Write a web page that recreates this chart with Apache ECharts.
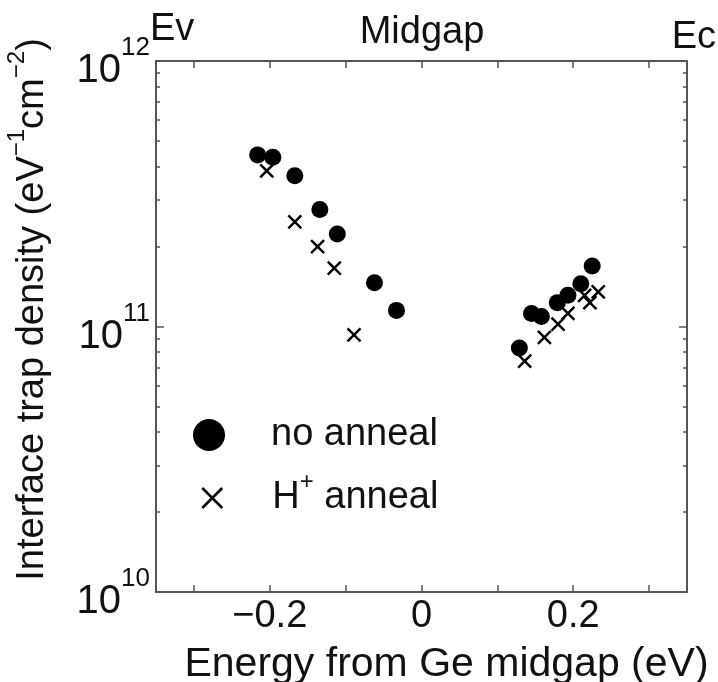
<!DOCTYPE html>
<html>
<head>
<meta charset="utf-8">
<script src="https://cdn.jsdelivr.net/npm/echarts@6/dist/echarts.min.js"></script>
<style>
  html, body { margin: 0; padding: 0; background: #fff; }
  #chart { width: 718px; height: 682px; }
</style>
</head>
<body>
<div id="chart"></div>
<script>
// energy from midgap (eV) / trap density (eV^-1 cm^-2)
const noAnnealEnergy = [-0.216, -0.196, -0.167, -0.134, -0.111, -0.062, -0.033,
  0.129, 0.145, 0.158, 0.179, 0.193, 0.210, 0.225];
const noAnnealDit = [4.43e11, 4.34e11, 3.70e11, 2.76e11, 2.23e11, 1.46e11, 1.15e11,
  8.3e10, 1.12e11, 1.09e11, 1.23e11, 1.31e11, 1.45e11, 1.69e11];

const hAnnealEnergy = [-0.204, -0.167, -0.137, -0.115, -0.089,
  0.136, 0.162, 0.180, 0.193, 0.215, 0.222, 0.233];
const hAnnealDit = [3.86e11, 2.48e11, 2.0e11, 1.66e11, 9.3e10,
  7.4e10, 9.1e10, 1.02e11, 1.12e11, 1.31e11, 1.23e11, 1.35e11];

// ticks
const xTicks = [-0.3, -0.2, -0.1, 0, 0.1, 0.2, 0.3];
const xLabels = [-0.2, 0, 0.2];
const yMajor = [1e10, 1e11, 1e12];
const yMinor = [2e10, 3e10, 4e10, 5e10, 6e10, 7e10, 8e10, 9e10,
  2e11, 3e11, 4e11, 5e11, 6e11, 7e11, 8e11, 9e11];

const FONT = "Arial, 'Liberation Sans', sans-serif";
const axisColor = "#555";
const textColor = "#111";

const zip = (xs, ys) => xs.map((x, i) => [x, ys[i]]);

const chart = echarts.init(document.getElementById("chart"));

const crossPath = "path://M0,0L10,10M10,0L0,10";

// y axes share the same range, only ticks differ
function yAxisBase(pos) {
  return {
    type: "log",
    logBase: 10,
    min: 1e10,
    max: 1e12,
    position: pos,
    splitLine: { show: false },
    axisLine: { show: true, onZero: false, lineStyle: { color: axisColor, width: 2 } },
  };
}

const option = {
  animation: false,
  backgroundColor: "#fff",
  textStyle: { fontFamily: FONT, color: textColor },
  grid: {
    left: 156,
    right: 31,
    top: 61,
    bottom: 90,
    containLabel: false,
    outerBoundsMode: "none",
  },
  xAxis: [
    {
      type: "value",
      min: -0.35,
      max: 0.35,
      position: "bottom",
      splitLine: { show: false },
      axisLine: { show: true, onZero: false, lineStyle: { color: axisColor, width: 2 } },
      axisTick: {
        show: true,
        inside: true,
        length: 7,
        customValues: xTicks,
        lineStyle: { color: axisColor, width: 1.5 },
      },
      axisLabel: {
        customValues: xLabels,
        margin: 6,
        fontSize: 38,
        fontFamily: FONT,
        color: textColor,
        formatter: (v) => (v < 0 ? "\u2212" + Math.abs(v) : String(v)),
      },
      name: "Energy from Ge midgap (eV)",
      nameLocation: "middle",
      nameGap: 52,
      nameTextStyle: {
        fontSize: 41,
        fontFamily: FONT,
        color: textColor,
        verticalAlign: "top",
        padding: [0, 0, 0, 50],
      },
    },
    {
      type: "value",
      min: -0.35,
      max: 0.35,
      position: "top",
      splitLine: { show: false },
      axisLine: { show: true, onZero: false, lineStyle: { color: axisColor, width: 2 } },
      axisTick: {
        show: true,
        inside: true,
        length: 7,
        customValues: xTicks,
        lineStyle: { color: axisColor, width: 1.5 },
      },
      axisLabel: { show: false },
    },
  ],
  yAxis: [
    Object.assign(yAxisBase("left"), {
      axisTick: {
        show: true,
        inside: true,
        length: 8,
        customValues: yMajor,
        lineStyle: { color: axisColor, width: 1.5 },
      },
      axisLabel: {
        customValues: yMajor,
        margin: 6,
        align: "right",
        formatter: (v) => "{b|10}{s|" + Math.round(Math.log10(v)) + "}",
        rich: {
          b: { fontSize: 40, fontFamily: FONT, color: textColor, lineHeight: 60, verticalAlign: "bottom", padding: [0, 0, 0, 0] },
          s: { fontSize: 26, fontFamily: FONT, color: textColor, lineHeight: 20, verticalAlign: "top", padding: [4, 0, 0, 0] },
        },
      },
      name: "Interface trap density (eV{s|\u22121}cm{s|\u22122})",
      nameLocation: "middle",
      nameRotate: 90,
      nameGap: 95,
      nameTextStyle: {
        fontSize: 38,
        fontFamily: FONT,
        color: textColor,
        lineHeight: 56,
        padding: [0, 0, 0, 34],
        rich: {
          s: { fontSize: 24, fontFamily: FONT, color: textColor, lineHeight: 20, verticalAlign: "top" },
        },
      },
    }),
    Object.assign(yAxisBase("left"), {
      axisTick: {
        show: true,
        inside: true,
        length: 4,
        customValues: yMinor,
        lineStyle: { color: axisColor, width: 1.5 },
      },
      axisLabel: { show: false },
    }),
    Object.assign(yAxisBase("right"), {
      axisTick: {
        show: true,
        inside: true,
        length: 8,
        customValues: yMajor,
        lineStyle: { color: axisColor, width: 1.5 },
      },
      axisLabel: { show: false },
    }),
    Object.assign(yAxisBase("right"), {
      axisTick: {
        show: true,
        inside: true,
        length: 4,
        customValues: yMinor,
        lineStyle: { color: axisColor, width: 1.5 },
      },
      axisLabel: { show: false },
    }),
  ],
  legend: [
    {
      data: [{ name: "no anneal", icon: "circle" }],
      left: 188,
      top: 402,
      itemWidth: 114,
      itemHeight: 32,
      textStyle: { fontSize: 38, fontFamily: FONT, color: textColor, lineHeight: 56 },
    },
    {
      data: [
        {
          name: "H+ anneal",
          icon: crossPath,
          itemStyle: { color: "transparent", borderColor: "#000", borderWidth: 2.5 },
        },
      ],
      left: 196,
      top: 465,
      itemWidth: 110,
      itemHeight: 20,
      formatter: () => "H{s|+} anneal",
      textStyle: {
        fontSize: 38,
        fontFamily: FONT,
        color: textColor,
        lineHeight: 56,
        rich: {
          s: { fontSize: 24, fontFamily: FONT, color: textColor, lineHeight: 20, verticalAlign: "top" },
        },
      },
    },
  ],
  graphic: [
    {
      type: "text",
      left: 150,
      top: 11,
      style: { text: "Ev", font: "38px " + FONT, fill: textColor },
    },
    {
      type: "text",
      x: 422,
      y: 14,
      style: { text: "Midgap", font: "38px " + FONT, fill: textColor, align: "center", verticalAlign: "top" },
    },
    {
      type: "text",
      right: 2,
      top: 19,
      style: { text: "Ec", font: "38px " + FONT, fill: textColor },
    },
  ],
  series: [
    {
      name: "no anneal",
      type: "scatter",
      xAxisIndex: 0,
      yAxisIndex: 0,
      symbol: "circle",
      symbolSize: 17,
      itemStyle: { color: "#000", opacity: 1 },
      data: zip(noAnnealEnergy, noAnnealDit),
    },
    {
      name: "H+ anneal",
      type: "scatter",
      xAxisIndex: 0,
      yAxisIndex: 0,
      symbol: crossPath,
      symbolSize: 13,
      itemStyle: { color: "transparent", borderColor: "#000", borderWidth: 2.5, opacity: 1 },
      data: zip(hAnnealEnergy, hAnnealDit),
    },
  ],
};

chart.setOption(option);
</script>
</body>
</html>
